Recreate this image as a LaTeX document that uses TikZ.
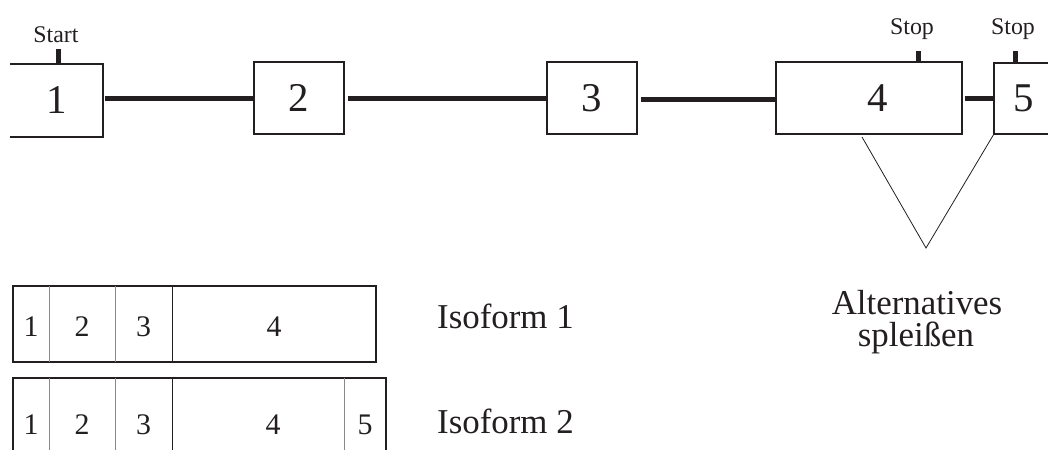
\documentclass[tikz,border=0pt]{standalone}
\usepackage{fontspec}
\setmainfont{Liberation Serif}
\definecolor{ink}{HTML}{231F20}
\definecolor{divgray}{HTML}{8A8A8A}
\begin{document}
\begin{tikzpicture}[x=1bp,y=-1bp,
  exon/.style={inner sep=0pt, minimum height=72bp, text=ink, font=\fontsize{41}{41}\selectfont},
  seg/.style={inner sep=0pt, text=ink, font=\fontsize{30}{30}\selectfont},
  conn/.style={draw=ink, line width=5bp},
  stopmark/.style={draw=ink, line width=5bp},
  boxline/.style={draw=ink, line width=1.5bp},
  isoframe/.style={draw=ink, line width=1.6bp},
  divider/.style={draw=divgray, line width=1.2bp},
  darkdiv/.style={draw=ink, line width=1.2bp},
  vline/.style={draw=ink, line width=0.8bp},
  lbl/.style={text=ink, inner sep=0pt, font=\fontsize{24}{24}\selectfont},
  big/.style={text=ink, inner sep=0pt, font=\fontsize{35}{35}\selectfont}]
\useasboundingbox (0,0) rectangle (1048,450);
\clip (0,0) rectangle (1048,450);
\fill[white] (0,0) rectangle (1048,450);

% gene exons
\node[exon, minimum width=93bp, minimum height=73bp] (e1) at (56.5,100.5) {1};
\draw[boxline] (e1.north west) -- (e1.north east) -- (e1.south east) -- (e1.south west);
\node[exon, boxline, minimum width=90bp] (e2) at (299,98) {2};
\node[exon, boxline, minimum width=90bp] (e3) at (592,98) {3};
\node[exon, boxline, minimum width=186bp] (e4) at (869,98) {\hspace*{18bp}4};
\node[exon, minimum width=60bp, minimum height=71bp] (e5) at (1024,98.5) {5};
\draw[boxline] (e5.north east) -- (e5.north west) -- (e5.south west) -- (e5.south east);

% introns
\draw[conn, shorten <=2bp] (e1.east |- 0,99) -- (e2.west |- 0,99);
\draw[conn, shorten <=3bp] (e2.east |- 0,99) -- (e3.west |- 0,99);
\draw[conn, shorten <=3bp] (e3.east |- 0,100) -- (e4.west |- 0,100);
\draw[conn, shorten <=2bp] (e4.east |- 0,99) -- (e5.west |- 0,99);

% start / stop marks
\coordinate (t1) at (58,49);
\draw[stopmark] (e1.north -| t1) -- (t1);
\node[lbl, anchor=base] (start) at (56,43) {Start};
\coordinate (t4) at (918,51);
\draw[stopmark] (e4.north -| t4) -- (t4);
\node[lbl, anchor=base] (stop4) at (912,35) {Stop};
\coordinate (t5) at (1015,51);
\draw[stopmark] (e5.north -| t5) -- (t5);
\node[lbl, anchor=base] (stop5) at (1013,35) {Stop};

% alternative splicing wedge
\coordinate (apex) at (926,248);
\coordinate (l4) at (862,137);
\draw[vline] (l4) -- (apex) -- (e5.south west);
\node[big, anchor=base] (alt1) at (917,315) {Alternatives};
\node[big, anchor=base] (alt2) at (916,347) {spleißen};

% isoform 1
\coordinate (i1tl) at (13,286);
\coordinate (i1br) at (376,362);
\node[seg, minimum width=36bp] (a1) at (31,327) {1};
\node[seg, minimum width=66bp] (a2) at (82,327) {2};
\node[seg, minimum width=57bp] (a3) at (143.5,327) {3};
\node[seg, minimum width=204bp] (a4) at (274,327) {4};
\draw[isoframe] (i1tl) rectangle (i1br);
\draw[divider] (a1.east |- i1tl) -- (a1.east |- i1br);
\draw[divider] (a2.east |- i1tl) -- (a2.east |- i1br);
\draw[darkdiv] (a3.east |- i1tl) -- (a3.east |- i1br);
\node[big, anchor=base west] (iso1) at (437,329) {Isoform 1};

% isoform 2
\coordinate (i2tl) at (13,378);
\coordinate (i2br) at (386,460);
\node[seg, minimum width=36bp] (b1) at (31,425) {1};
\node[seg, minimum width=66bp] (b2) at (82,425) {2};
\node[seg, minimum width=57bp] (b3) at (143.5,425) {3};
\node[seg, minimum width=172bp] (b4) at (258,425) {\hspace*{30bp}4};
\node[seg, minimum width=42bp] (b5) at (365,425) {5};
\draw[isoframe] (i2tl |- i2br) -- (i2tl) -- (i2br |- i2tl) -- (i2br);
\draw[divider] (b1.east |- i2tl) -- (b1.east |- i2br);
\draw[divider] (b2.east |- i2tl) -- (b2.east |- i2br);
\draw[darkdiv] (b3.east |- i2tl) -- (b3.east |- i2br);
\draw[divider] (b4.east |- i2tl) -- (b4.east |- i2br);
\node[big, anchor=base west] (iso2) at (437,433) {Isoform 2};
\end{tikzpicture}
\end{document}
